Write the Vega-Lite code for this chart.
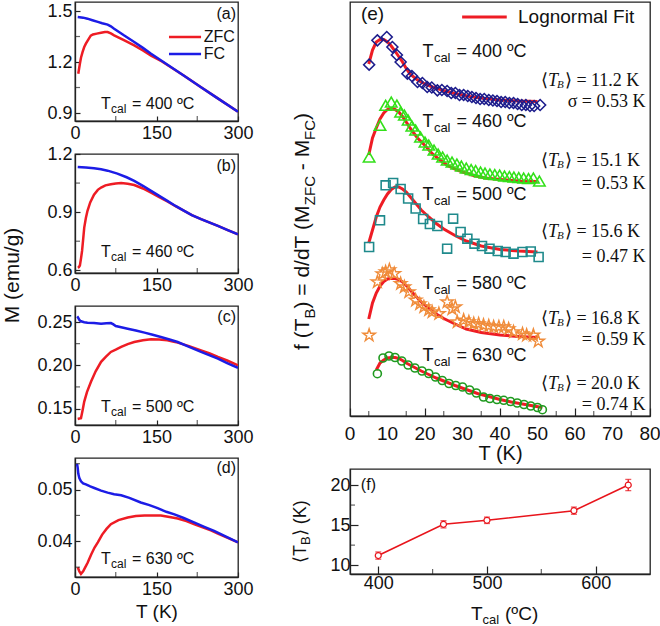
{
"$schema":"https://vega.github.io/schema/vega-lite/v6.json",
"background":"white",
"padding":{"left":0,"top":1,"right":0,"bottom":0},
"bounds":"flush",
"spacing":275,
"config":{
 "view":{"stroke":"#222","strokeWidth":1.3},
 "font":"Liberation Sans",
 "axis":{"labelFont":"Liberation Sans","labelFontSize":18,"labelColor":"#111","titleFont":"Liberation Sans","titleFontSize":19,"titleFontWeight":"normal","titleColor":"#111","tickSize":-5,"tickColor":"#222","tickWidth":1.2,"domainColor":"#222","domainWidth":1.3,"grid":false,"labelPadding":8,"labelOverlap":false,"labelFlush":false},
 "tick":{"color":"#222","thickness":1.2},
 "text":{"font":"Liberation Sans","color":"#111"}
},
"hconcat":[
{"bounds":"flush","spacing":33,"vconcat":[
 {"width":163,"height":119,
  "data":{"values":[
   {"T":6,"M":1.131,"c":"ZFC"},{"T":7.5,"M":1.16,"c":"ZFC"},{"T":9,"M":1.19,"c":"ZFC"},{"T":11,"M":1.225,"c":"ZFC"},{"T":14,"M":1.259,"c":"ZFC"},{"T":17,"M":1.288,"c":"ZFC"},{"T":20,"M":1.308,"c":"ZFC"},{"T":25,"M":1.335,"c":"ZFC"},{"T":29,"M":1.355,"c":"ZFC"},{"T":33,"M":1.362,"c":"ZFC"},{"T":40,"M":1.367,"c":"ZFC"},{"T":48,"M":1.372,"c":"ZFC"},{"T":55,"M":1.376,"c":"ZFC"},{"T":60,"M":1.376,"c":"ZFC"},{"T":66,"M":1.368,"c":"ZFC"},{"T":72,"M":1.357,"c":"ZFC"},{"T":90,"M":1.329,"c":"ZFC"},{"T":109,"M":1.298,"c":"ZFC"},{"T":125,"M":1.268,"c":"ZFC"},{"T":140,"M":1.238,"c":"ZFC"},{"T":160,"M":1.203,"c":"ZFC"},{"T":180,"M":1.162,"c":"ZFC"},{"T":200,"M":1.121,"c":"ZFC"},{"T":232,"M":1.052,"c":"ZFC"},{"T":260,"M":0.992,"c":"ZFC"},{"T":300,"M":0.907,"c":"ZFC"},
   {"T":5,"M":1.465,"c":"FC"},{"T":15,"M":1.461,"c":"FC"},{"T":23,"M":1.455,"c":"FC"},{"T":32,"M":1.446,"c":"FC"},{"T":42,"M":1.436,"c":"FC"},{"T":50,"M":1.428,"c":"FC"},{"T":60,"M":1.42,"c":"FC"},{"T":66,"M":1.41,"c":"FC"},{"T":72,"M":1.396,"c":"FC"},{"T":90,"M":1.357,"c":"FC"},{"T":109,"M":1.318,"c":"FC"},{"T":125,"M":1.283,"c":"FC"},{"T":140,"M":1.249,"c":"FC"},{"T":160,"M":1.206,"c":"FC"},{"T":180,"M":1.163,"c":"FC"},{"T":200,"M":1.121,"c":"FC"},{"T":232,"M":1.052,"c":"FC"},{"T":260,"M":0.992,"c":"FC"},{"T":300,"M":0.907,"c":"FC"}
  ]},
  "layer":[
   {"transform":[{"filter":"datum.c==='ZFC'"}],"mark":{"type":"line","color":"#ee1c24","strokeWidth":2.5,"clip":true},
    "encoding":{"x":{"field":"T","type":"quantitative","scale":{"domain":[0,300],"nice":false},"axis":{"values":[0,150,300],"format":"d","title":null}},
     "y":{"field":"M","type":"quantitative","scale":{"domain":[0.853,1.553],"nice":false,"zero":false},"axis":{"values":[0.9,1.2,1.5],"format":".1f","title":null}}}},
   {"transform":[{"filter":"datum.c==='FC'"}],"mark":{"type":"line","color":"#1c1ce6","strokeWidth":2.5,"clip":true},
    "encoding":{"x":{"field":"T","type":"quantitative"},"y":{"field":"M","type":"quantitative"}}},
   {"data":{"values":[{"v":75},{"v":225}]},"mark":{"type":"tick","orient":"vertical","size":10,"clip":true},
    "encoding":{"x":{"field":"v","type":"quantitative"},"y":{"datum":0.853,"type":"quantitative"}}},
   {"data":{"values":[{"v":1.05},{"v":1.35}]},"mark":{"type":"tick","orient":"horizontal","size":10,"clip":true},
    "encoding":{"y":{"field":"v","type":"quantitative"},"x":{"datum":0,"type":"quantitative"}}},
   {"data":{"values":[{"a":173,"b":232,"M":1.347,"c":"ZFC"},{"a":173,"b":232,"M":1.247,"c":"FC"}]},
    "mark":{"type":"rule","strokeWidth":2.5},
    "encoding":{"x":{"field":"a","type":"quantitative"},"x2":{"field":"b"},"y":{"field":"M","type":"quantitative"},"color":{"field":"c","type":"nominal","scale":{"domain":["ZFC","FC"],"range":["#ee1c24","#1c1ce6"]},"legend":null}}},
   {"data":{"values":[{"T":237,"M":1.347,"lab":"ZFC"},{"T":237,"M":1.247,"lab":"FC"}]},
    "mark":{"type":"text","align":"left","baseline":"middle","fontSize":16},
    "encoding":{"x":{"field":"T","type":"quantitative"},"y":{"field":"M","type":"quantitative"},"text":{"field":"lab"}}},
   {"data":{"values":[{"T":296.3,"M":1.482,"lab":"(a)"}]},
    "mark":{"type":"text","align":"right","baseline":"middle","fontSize":16},
    "encoding":{"x":{"field":"T","type":"quantitative"},"y":{"field":"M","type":"quantitative"},"text":{"field":"lab"}}},
   {"data":{"values":[{"T":47.9,"M":0.953,"lab":"= 400 ºC"}]},
    "layer":[
     {"mark":{"type":"text","text":"T","align":"left","baseline":"middle","fontSize":16},"encoding":{"x":{"field":"T","type":"quantitative"},"y":{"field":"M","type":"quantitative"}}},
     {"mark":{"type":"text","text":"cal","align":"left","baseline":"middle","fontSize":12,"dx":10,"dy":5},"encoding":{"x":{"field":"T","type":"quantitative"},"y":{"field":"M","type":"quantitative"}}},
     {"mark":{"type":"text","align":"left","baseline":"middle","fontSize":16,"dx":31},"encoding":{"x":{"field":"T","type":"quantitative"},"y":{"field":"M","type":"quantitative"},"text":{"field":"lab"}}}
    ]}
  ]},
 {"width":163,"height":119,
  "data":{"values":[
   {"T":5,"M":0.614,"c":"ZFC"},{"T":7,"M":0.616,"c":"ZFC"},{"T":9,"M":0.625,"c":"ZFC"},{"T":11,"M":0.66,"c":"ZFC"},{"T":13,"M":0.70,"c":"ZFC"},{"T":15,"M":0.76,"c":"ZFC"},{"T":17,"M":0.82,"c":"ZFC"},{"T":20,"M":0.87,"c":"ZFC"},{"T":23,"M":0.907,"c":"ZFC"},{"T":28,"M":0.95,"c":"ZFC"},{"T":35,"M":0.99,"c":"ZFC"},{"T":42,"M":1.015,"c":"ZFC"},{"T":48,"M":1.027,"c":"ZFC"},{"T":56,"M":1.038,"c":"ZFC"},{"T":66,"M":1.044,"c":"ZFC"},{"T":75,"M":1.048,"c":"ZFC"},{"T":85,"M":1.05,"c":"ZFC"},{"T":97,"M":1.047,"c":"ZFC"},{"T":109,"M":1.04,"c":"ZFC"},{"T":125,"M":1.022,"c":"ZFC"},{"T":140,"M":1.0,"c":"ZFC"},{"T":155,"M":0.978,"c":"ZFC"},{"T":170,"M":0.955,"c":"ZFC"},{"T":185,"M":0.931,"c":"ZFC"},{"T":201,"M":0.907,"c":"ZFC"},{"T":215,"M":0.885,"c":"ZFC"},{"T":232,"M":0.864,"c":"ZFC"},{"T":248,"M":0.846,"c":"ZFC"},{"T":263,"M":0.829,"c":"ZFC"},{"T":280,"M":0.809,"c":"ZFC"},{"T":300,"M":0.786,"c":"ZFC"},
   {"T":5,"M":1.133,"c":"FC"},{"T":20,"M":1.13,"c":"FC"},{"T":35,"M":1.126,"c":"FC"},{"T":48,"M":1.121,"c":"FC"},{"T":60,"M":1.114,"c":"FC"},{"T":78,"M":1.099,"c":"FC"},{"T":95,"M":1.08,"c":"FC"},{"T":109,"M":1.061,"c":"FC"},{"T":125,"M":1.036,"c":"FC"},{"T":140,"M":1.01,"c":"FC"},{"T":155,"M":0.984,"c":"FC"},{"T":170,"M":0.958,"c":"FC"},{"T":185,"M":0.932,"c":"FC"},{"T":201,"M":0.907,"c":"FC"},{"T":215,"M":0.885,"c":"FC"},{"T":232,"M":0.864,"c":"FC"},{"T":248,"M":0.846,"c":"FC"},{"T":263,"M":0.829,"c":"FC"},{"T":280,"M":0.809,"c":"FC"},{"T":300,"M":0.786,"c":"FC"}
  ]},
  "layer":[
   {"transform":[{"filter":"datum.c==='ZFC'"}],"mark":{"type":"line","color":"#ee1c24","strokeWidth":2.5,"clip":true},
    "encoding":{"x":{"field":"T","type":"quantitative","scale":{"domain":[0,300],"nice":false},"axis":{"values":[0,150,300],"format":"d","title":null}},
     "y":{"field":"M","type":"quantitative","scale":{"domain":[0.586,1.2],"nice":false,"zero":false},"axis":{"values":[0.6,0.9,1.2],"format":".1f","title":null}}}},
   {"transform":[{"filter":"datum.c==='FC'"}],"mark":{"type":"line","color":"#1c1ce6","strokeWidth":2.5,"clip":true},
    "encoding":{"x":{"field":"T","type":"quantitative"},"y":{"field":"M","type":"quantitative"}}},
   {"data":{"values":[{"v":75},{"v":225}]},"mark":{"type":"tick","orient":"vertical","size":10,"clip":true},
    "encoding":{"x":{"field":"v","type":"quantitative"},"y":{"datum":0.586,"type":"quantitative"}}},
   {"data":{"values":[{"v":0.75},{"v":1.05}]},"mark":{"type":"tick","orient":"horizontal","size":10,"clip":true},
    "encoding":{"y":{"field":"v","type":"quantitative"},"x":{"datum":0,"type":"quantitative"}}},
   {"data":{"values":[{"T":296.3,"M":1.138,"lab":"(b)"}]},
    "mark":{"type":"text","align":"right","baseline":"middle","fontSize":16},
    "encoding":{"x":{"field":"T","type":"quantitative"},"y":{"field":"M","type":"quantitative"},"text":{"field":"lab"}}},
   {"data":{"values":[{"T":47.9,"M":0.692,"lab":"= 460 ºC"}]},
    "layer":[
     {"mark":{"type":"text","text":"T","align":"left","baseline":"middle","fontSize":16},"encoding":{"x":{"field":"T","type":"quantitative"},"y":{"field":"M","type":"quantitative"}}},
     {"mark":{"type":"text","text":"cal","align":"left","baseline":"middle","fontSize":12,"dx":10,"dy":5},"encoding":{"x":{"field":"T","type":"quantitative"},"y":{"field":"M","type":"quantitative"}}},
     {"mark":{"type":"text","align":"left","baseline":"middle","fontSize":16,"dx":31},"encoding":{"x":{"field":"T","type":"quantitative"},"y":{"field":"M","type":"quantitative"},"text":{"field":"lab"}}}
    ]}
  ]},
 {"width":163,"height":119,
  "data":{"values":[
   {"T":5,"M":0.138,"c":"ZFC"},{"T":8,"M":0.1385,"c":"ZFC"},{"T":11,"M":0.1388,"c":"ZFC"},{"T":14,"M":0.148,"c":"ZFC"},{"T":17,"M":0.158,"c":"ZFC"},{"T":22,"M":0.169,"c":"ZFC"},{"T":29.4,"M":0.181,"c":"ZFC"},{"T":38,"M":0.193,"c":"ZFC"},{"T":48,"M":0.204,"c":"ZFC"},{"T":57,"M":0.21,"c":"ZFC"},{"T":66,"M":0.2154,"c":"ZFC"},{"T":75,"M":0.218,"c":"ZFC"},{"T":85,"M":0.2212,"c":"ZFC"},{"T":97,"M":0.2245,"c":"ZFC"},{"T":109,"M":0.2269,"c":"ZFC"},{"T":125,"M":0.229,"c":"ZFC"},{"T":140,"M":0.23,"c":"ZFC"},{"T":155,"M":0.2298,"c":"ZFC"},{"T":170,"M":0.2289,"c":"ZFC"},{"T":180,"M":0.2275,"c":"ZFC"},{"T":189,"M":0.2262,"c":"ZFC"},{"T":210,"M":0.2222,"c":"ZFC"},{"T":232,"M":0.2173,"c":"ZFC"},{"T":248,"M":0.2137,"c":"ZFC"},{"T":263,"M":0.2096,"c":"ZFC"},{"T":280,"M":0.2055,"c":"ZFC"},{"T":300,"M":0.2,"c":"ZFC"},
   {"T":4,"M":0.2565,"c":"FC"},{"T":5,"M":0.2558,"c":"FC"},{"T":8,"M":0.2525,"c":"FC"},{"T":11,"M":0.2508,"c":"FC"},{"T":17,"M":0.2498,"c":"FC"},{"T":23,"M":0.2492,"c":"FC"},{"T":35,"M":0.2488,"c":"FC"},{"T":48,"M":0.248,"c":"FC"},{"T":58,"M":0.2486,"c":"FC"},{"T":66,"M":0.2488,"c":"FC"},{"T":70,"M":0.2475,"c":"FC"},{"T":75,"M":0.2454,"c":"FC"},{"T":85,"M":0.244,"c":"FC"},{"T":97,"M":0.2423,"c":"FC"},{"T":112,"M":0.2402,"c":"FC"},{"T":128,"M":0.2377,"c":"FC"},{"T":143,"M":0.2352,"c":"FC"},{"T":158,"M":0.2327,"c":"FC"},{"T":174,"M":0.2298,"c":"FC"},{"T":189,"M":0.2269,"c":"FC"},{"T":210,"M":0.2213,"c":"FC"},{"T":232,"M":0.2154,"c":"FC"},{"T":248,"M":0.2115,"c":"FC"},{"T":263,"M":0.2077,"c":"FC"},{"T":280,"M":0.2026,"c":"FC"},{"T":300,"M":0.1969,"c":"FC"}
  ]},
  "layer":[
   {"transform":[{"filter":"datum.c==='ZFC'"}],"mark":{"type":"line","color":"#ee1c24","strokeWidth":2.5,"clip":true},
    "encoding":{"x":{"field":"T","type":"quantitative","scale":{"domain":[0,300],"nice":false},"axis":{"values":[0,150,300],"format":"d","title":null}},
     "y":{"field":"M","type":"quantitative","scale":{"domain":[0.131,0.2685],"nice":false,"zero":false},"axis":{"values":[0.15,0.2,0.25],"format":".2f","title":"M (emu/g)","titleAngle":270,"titleBaseline":"alphabetic","titleAlign":"center","titleX":-57,"titleY":-31,"titleFontSize":21}}}},
   {"transform":[{"filter":"datum.c==='FC'"}],"mark":{"type":"line","color":"#1c1ce6","strokeWidth":2.5,"clip":true},
    "encoding":{"x":{"field":"T","type":"quantitative"},"y":{"field":"M","type":"quantitative"}}},
   {"data":{"values":[{"v":75},{"v":225}]},"mark":{"type":"tick","orient":"vertical","size":10,"clip":true},
    "encoding":{"x":{"field":"v","type":"quantitative"},"y":{"datum":0.131,"type":"quantitative"}}},
   {"data":{"values":[{"v":0.175},{"v":0.225}]},"mark":{"type":"tick","orient":"horizontal","size":10,"clip":true},
    "encoding":{"y":{"field":"v","type":"quantitative"},"x":{"datum":0,"type":"quantitative"}}},
   {"data":{"values":[{"T":296.3,"M":0.2558,"lab":"(c)"}]},
    "mark":{"type":"text","align":"right","baseline":"middle","fontSize":16},
    "encoding":{"x":{"field":"T","type":"quantitative"},"y":{"field":"M","type":"quantitative"},"text":{"field":"lab"}}},
   {"data":{"values":[{"T":47.9,"M":0.1519,"lab":"= 500 ºC"}]},
    "layer":[
     {"mark":{"type":"text","text":"T","align":"left","baseline":"middle","fontSize":16},"encoding":{"x":{"field":"T","type":"quantitative"},"y":{"field":"M","type":"quantitative"}}},
     {"mark":{"type":"text","text":"cal","align":"left","baseline":"middle","fontSize":12,"dx":10,"dy":5},"encoding":{"x":{"field":"T","type":"quantitative"},"y":{"field":"M","type":"quantitative"}}},
     {"mark":{"type":"text","align":"left","baseline":"middle","fontSize":16,"dx":31},"encoding":{"x":{"field":"T","type":"quantitative"},"y":{"field":"M","type":"quantitative"},"text":{"field":"lab"}}}
    ]}
  ]},
 {"width":163,"height":119,
  "data":{"values":[
   {"T":5,"M":0.035,"c":"ZFC"},{"T":8,"M":0.0342,"c":"ZFC"},{"T":11,"M":0.0337,"c":"ZFC"},{"T":15,"M":0.0342,"c":"ZFC"},{"T":19,"M":0.035,"c":"ZFC"},{"T":23,"M":0.0358,"c":"ZFC"},{"T":30,"M":0.0375,"c":"ZFC"},{"T":36,"M":0.0388,"c":"ZFC"},{"T":42,"M":0.0398,"c":"ZFC"},{"T":50,"M":0.0413,"c":"ZFC"},{"T":58,"M":0.0424,"c":"ZFC"},{"T":66,"M":0.0433,"c":"ZFC"},{"T":80,"M":0.0441,"c":"ZFC"},{"T":97,"M":0.0446,"c":"ZFC"},{"T":112,"M":0.0449,"c":"ZFC"},{"T":128,"M":0.045,"c":"ZFC"},{"T":143,"M":0.045,"c":"ZFC"},{"T":158,"M":0.045,"c":"ZFC"},{"T":174,"M":0.0447,"c":"ZFC"},{"T":189,"M":0.0444,"c":"ZFC"},{"T":205,"M":0.0439,"c":"ZFC"},{"T":220,"M":0.0433,"c":"ZFC"},{"T":235,"M":0.0427,"c":"ZFC"},{"T":250,"M":0.0421,"c":"ZFC"},{"T":265,"M":0.0414,"c":"ZFC"},{"T":280,"M":0.0407,"c":"ZFC"},{"T":300,"M":0.0398,"c":"ZFC"},
   {"T":3.7,"M":0.055,"c":"FC"},{"T":5,"M":0.0542,"c":"FC"},{"T":6,"M":0.0531,"c":"FC"},{"T":8,"M":0.0522,"c":"FC"},{"T":11,"M":0.0516,"c":"FC"},{"T":15,"M":0.0512,"c":"FC"},{"T":20,"M":0.051,"c":"FC"},{"T":28,"M":0.0506,"c":"FC"},{"T":35.5,"M":0.0503,"c":"FC"},{"T":48,"M":0.0498,"c":"FC"},{"T":60,"M":0.0494,"c":"FC"},{"T":72,"M":0.0491,"c":"FC"},{"T":85,"M":0.0489,"c":"FC"},{"T":100,"M":0.0484,"c":"FC"},{"T":121,"M":0.0475,"c":"FC"},{"T":137,"M":0.047,"c":"FC"},{"T":152,"M":0.0464,"c":"FC"},{"T":168,"M":0.0457,"c":"FC"},{"T":183,"M":0.0452,"c":"FC"},{"T":200,"M":0.0445,"c":"FC"},{"T":220,"M":0.0436,"c":"FC"},{"T":238,"M":0.0428,"c":"FC"},{"T":256,"M":0.042,"c":"FC"},{"T":278,"M":0.0409,"c":"FC"},{"T":300,"M":0.0398,"c":"FC"}
  ]},
  "layer":[
   {"transform":[{"filter":"datum.c==='ZFC'"}],"mark":{"type":"line","color":"#ee1c24","strokeWidth":2.5,"clip":true},
    "encoding":{"x":{"field":"T","type":"quantitative","scale":{"domain":[0,300],"nice":false},"axis":{"values":[0,150,300],"format":"d","title":"T (K)","titlePadding":4}},
     "y":{"field":"M","type":"quantitative","scale":{"domain":[0.0331,0.0561],"nice":false,"zero":false},"axis":{"values":[0.04,0.05],"format":".2f","title":null}}}},
   {"transform":[{"filter":"datum.c==='FC'"}],"mark":{"type":"line","color":"#1c1ce6","strokeWidth":2.5,"clip":true},
    "encoding":{"x":{"field":"T","type":"quantitative"},"y":{"field":"M","type":"quantitative"}}},
   {"data":{"values":[{"v":75},{"v":225}]},"mark":{"type":"tick","orient":"vertical","size":10,"clip":true},
    "encoding":{"x":{"field":"v","type":"quantitative"},"y":{"datum":0.0331,"type":"quantitative"}}},
   {"data":{"values":[{"v":0.035},{"v":0.045},{"v":0.055}]},"mark":{"type":"tick","orient":"horizontal","size":10,"clip":true},
    "encoding":{"y":{"field":"v","type":"quantitative"},"x":{"datum":0,"type":"quantitative"}}},
   {"data":{"values":[{"T":296.3,"M":0.0541,"lab":"(d)"}]},
    "mark":{"type":"text","align":"right","baseline":"middle","fontSize":16},
    "encoding":{"x":{"field":"T","type":"quantitative"},"y":{"field":"M","type":"quantitative"},"text":{"field":"lab"}}},
   {"data":{"values":[{"T":47.9,"M":0.0365,"lab":"= 630 ºC"}]},
    "layer":[
     {"mark":{"type":"text","text":"T","align":"left","baseline":"middle","fontSize":16},"encoding":{"x":{"field":"T","type":"quantitative"},"y":{"field":"M","type":"quantitative"}}},
     {"mark":{"type":"text","text":"cal","align":"left","baseline":"middle","fontSize":12,"dx":10,"dy":5},"encoding":{"x":{"field":"T","type":"quantitative"},"y":{"field":"M","type":"quantitative"}}},
     {"mark":{"type":"text","align":"left","baseline":"middle","fontSize":16,"dx":31},"encoding":{"x":{"field":"T","type":"quantitative"},"y":{"field":"M","type":"quantitative"},"text":{"field":"lab"}}}
    ]}
  ]}
]},
{"bounds":"flush","spacing":53,"vconcat":[
 {"width":300,"height":414,
  "layer":[
   {"data":{"values":[
    {"s":"400","T":5,"f":352},{"s":"400","T":6,"f":366},{"s":"400","T":7,"f":374},{"s":"400","T":8,"f":376.5},{"s":"400","T":9,"f":376.5},{"s":"400","T":10,"f":374},{"s":"400","T":11,"f":370},{"s":"400","T":12,"f":365},{"s":"400","T":13,"f":359.5},{"s":"400","T":14,"f":354},{"s":"400","T":15,"f":347.5},{"s":"400","T":16,"f":342},{"s":"400","T":18,"f":336},{"s":"400","T":20,"f":332},{"s":"400","T":22,"f":329},{"s":"400","T":25,"f":325.5},{"s":"400","T":28,"f":322.5},{"s":"400","T":32,"f":319.5},{"s":"400","T":36,"f":317.5},{"s":"400","T":40,"f":316},{"s":"400","T":45,"f":315},{"s":"400","T":50,"f":314.5},
    {"s":"460","T":5,"f":261},{"s":"460","T":6,"f":278},{"s":"460","T":7,"f":288},{"s":"460","T":8,"f":297},{"s":"460","T":9,"f":303},{"s":"460","T":10,"f":306.5},{"s":"460","T":11,"f":307.5},{"s":"460","T":12,"f":306.5},{"s":"460","T":13,"f":304},{"s":"460","T":14,"f":299.5},{"s":"460","T":15,"f":294},{"s":"460","T":16,"f":288},{"s":"460","T":17,"f":283},{"s":"460","T":18,"f":278},{"s":"460","T":20,"f":270.5},{"s":"460","T":22,"f":262},{"s":"460","T":24,"f":256},{"s":"460","T":26,"f":250.5},{"s":"460","T":28,"f":247},{"s":"460","T":30,"f":244},{"s":"460","T":33,"f":240.5},{"s":"460","T":36,"f":238},{"s":"460","T":40,"f":236.5},{"s":"460","T":45,"f":235},{"s":"460","T":50,"f":234.5},
    {"s":"500","T":5,"f":173},{"s":"500","T":6,"f":186},{"s":"500","T":7,"f":199},{"s":"500","T":8,"f":209},{"s":"500","T":9,"f":216},{"s":"500","T":10,"f":222},{"s":"500","T":11,"f":226.5},{"s":"500","T":12,"f":229},{"s":"500","T":13,"f":229},{"s":"500","T":14,"f":227},{"s":"500","T":15,"f":224},{"s":"500","T":17,"f":215},{"s":"500","T":19,"f":206},{"s":"500","T":21,"f":199},{"s":"500","T":23,"f":192.5},{"s":"500","T":25,"f":187},{"s":"500","T":28,"f":180.5},{"s":"500","T":31,"f":175},{"s":"500","T":35,"f":170},{"s":"500","T":40,"f":166.5},{"s":"500","T":45,"f":165},{"s":"500","T":50,"f":164},
    {"s":"580","T":5,"f":97},{"s":"580","T":6,"f":113},{"s":"580","T":7,"f":123},{"s":"580","T":8,"f":130},{"s":"580","T":9,"f":134.5},{"s":"580","T":10,"f":137},{"s":"580","T":11,"f":137.7},{"s":"580","T":12,"f":137.5},{"s":"580","T":13,"f":136.5},{"s":"580","T":14,"f":134},{"s":"580","T":15,"f":130.5},{"s":"580","T":17,"f":122},{"s":"580","T":19,"f":114},{"s":"580","T":21,"f":108},{"s":"580","T":23,"f":102},{"s":"580","T":25,"f":97.5},{"s":"580","T":28,"f":92},{"s":"580","T":31,"f":87},{"s":"580","T":35,"f":83.5},{"s":"580","T":40,"f":81},{"s":"580","T":45,"f":79.5},{"s":"580","T":50,"f":78.5},
    {"s":"630","T":7,"f":46},{"s":"630","T":8,"f":53},{"s":"630","T":9,"f":56},{"s":"630","T":10,"f":58},{"s":"630","T":11,"f":58.5},{"s":"630","T":12,"f":58.5},{"s":"630","T":13,"f":57.5},{"s":"630","T":14,"f":55.5},{"s":"630","T":15,"f":53},{"s":"630","T":17,"f":49},{"s":"630","T":19,"f":45},{"s":"630","T":21,"f":41.5},{"s":"630","T":23,"f":38},{"s":"630","T":25,"f":35},{"s":"630","T":28,"f":30.5},{"s":"630","T":31,"f":26.5},{"s":"630","T":34,"f":22.5},{"s":"630","T":37,"f":19.5},{"s":"630","T":40,"f":16.5},{"s":"630","T":43,"f":14},{"s":"630","T":46,"f":12},{"s":"630","T":49,"f":10},{"s":"630","T":51.3,"f":8.5}
   ]},
    "mark":{"type":"line","color":"#ee1c24","strokeWidth":3},
    "encoding":{"x":{"field":"T","type":"quantitative","scale":{"domain":[0,80],"nice":false},"axis":{"values":[0,10,20,30,40,50,60,70,80],"labels":false,"title":"T (K)","titleFontSize":20,"titlePadding":27,"tickSize":-8}},
     "y":{"field":"f","type":"quantitative","scale":{"domain":[0,414],"nice":false,"zero":false},"axis":null},
     "detail":{"field":"s"}}},
   {"data":{"values":[{"v":5},{"v":15},{"v":25},{"v":35},{"v":45},{"v":55},{"v":65},{"v":75}]},"mark":{"type":"tick","orient":"vertical","size":10,"clip":true},
    "encoding":{"x":{"field":"v","type":"quantitative"},"y":{"datum":0,"type":"quantitative"}}},
   {"data":{"values":[{"v":0,"t":"0"},{"v":10,"t":"10"},{"v":20,"t":"20"},{"v":30,"t":"30"},{"v":40,"t":"40"},{"v":50,"t":"50"},{"v":60,"t":"60"},{"v":70,"t":"70"},{"v":80,"t":"80"}]},
    "mark":{"type":"text","align":"center","baseline":"middle","fontSize":19,"dy":18},
    "encoding":{"x":{"field":"v","type":"quantitative"},"y":{"datum":0,"type":"quantitative"},"text":{"field":"t"}}},
   {"data":{"values":[
    {"s":"400","T":5.1,"f":351.3},{"s":"400","T":7.3,"f":375.7},{"s":"400","T":9.8,"f":379},{"s":"400","T":11.3,"f":369},{"s":"400","T":12.5,"f":361},{"s":"400","T":13.5,"f":354},{"s":"400","T":15.3,"f":342.3},{"s":"400","T":16.5,"f":340},{"s":"400","T":18,"f":334},{"s":"400","T":19.3,"f":333},{"s":"400","T":20.6,"f":329},{"s":"400","T":21.8,"f":328.5},{"s":"400","T":23.3,"f":325.7},{"s":"400","T":24.5,"f":326},{"s":"400","T":25.9,"f":325},{"s":"400","T":27,"f":323},{"s":"400","T":28.1,"f":323},{"s":"400","T":29.2,"f":321},{"s":"400","T":30.3,"f":321},{"s":"400","T":31.4,"f":320},{"s":"400","T":32.5,"f":319},{"s":"400","T":33.6,"f":318},{"s":"400","T":34.7,"f":317},{"s":"400","T":35.8,"f":317},{"s":"400","T":37,"f":316},{"s":"400","T":38.1,"f":315.5},{"s":"400","T":39.2,"f":315},{"s":"400","T":40.3,"f":314},{"s":"400","T":41.4,"f":314},{"s":"400","T":42.5,"f":313},{"s":"400","T":43.6,"f":313},{"s":"400","T":44.7,"f":312},{"s":"400","T":45.8,"f":311},{"s":"400","T":46.9,"f":311},{"s":"400","T":48,"f":310},{"s":"400","T":49.1,"f":310},{"s":"400","T":50.7,"f":311}
   ]},
    "mark":{"type":"point","shape":"diamond","filled":false,"color":"#1c1c8c","strokeWidth":1.6,"size":120,"opacity":1},
    "encoding":{"x":{"field":"T","type":"quantitative"},"y":{"field":"f","type":"quantitative"}}},
   {"data":{"values":[
    {"T":5.1,"f":259},{"T":8,"f":290.7},{"T":9.5,"f":310.7},{"T":11,"f":314},{"T":12.5,"f":311},{"T":13.5,"f":304},{"T":14.5,"f":301},{"T":15.5,"f":296},{"T":16.5,"f":290},{"T":17.5,"f":286},{"T":18.8,"f":279},{"T":20,"f":274},{"T":21,"f":271},{"T":22.4,"f":266},{"T":23.5,"f":262},{"T":24.7,"f":259},{"T":25.9,"f":256},{"T":27.2,"f":254},{"T":28.5,"f":252},{"T":29.7,"f":250},{"T":31,"f":248},{"T":32.3,"f":246.5},{"T":33.5,"f":245.5},{"T":34.8,"f":244},{"T":36,"f":243},{"T":37.3,"f":242},{"T":38.6,"f":241.5},{"T":39.9,"f":241},{"T":41.2,"f":240},{"T":42.5,"f":239.5},{"T":43.7,"f":239},{"T":45,"f":238.5},{"T":46.3,"f":238},{"T":47.6,"f":237.5},{"T":48.9,"f":238},{"T":50.5,"f":235}
   ]},
    "mark":{"type":"point","shape":"triangle-up","filled":false,"color":"#33e01a","strokeWidth":1.6,"size":130,"opacity":1},
    "encoding":{"x":{"field":"T","type":"quantitative"},"y":{"field":"f","type":"quantitative"}}},
   {"data":{"values":[
    {"T":5.1,"f":169},{"T":8,"f":195.7},{"T":9.5,"f":230.7},{"T":11.5,"f":233},{"T":13.5,"f":227},{"T":15.5,"f":217.5},{"T":17.5,"f":207.5},{"T":19.5,"f":197},{"T":21.3,"f":192},{"T":23.3,"f":190},{"T":25.9,"f":167.3},{"T":27.5,"f":197.3},{"T":29.5,"f":184},{"T":31.3,"f":177.3},{"T":33.2,"f":172.3},{"T":35.2,"f":170},{"T":37.2,"f":167.3},{"T":39.4,"f":165},{"T":41.5,"f":164},{"T":43.6,"f":162.3},{"T":46,"f":164},{"T":48.2,"f":164.5},{"T":50.3,"f":159}
   ]},
    "mark":{"type":"point","shape":"square","filled":false,"color":"#1f8a8c","strokeWidth":1.6,"size":80,"opacity":1},
    "encoding":{"x":{"field":"T","type":"quantitative"},"y":{"field":"f","type":"quantitative"}}},
   {"data":{"values":[
    {"T":5.1,"f":80.7},{"T":7.3,"f":134},{"T":8.6,"f":142},{"T":9.5,"f":144},{"T":10.5,"f":146},{"T":11.8,"f":142.3},{"T":13.5,"f":132.3},{"T":14.5,"f":129},{"T":15.7,"f":124},{"T":17.5,"f":115.7},{"T":18.6,"f":112},{"T":19.7,"f":109},{"T":21,"f":106},{"T":21.9,"f":104},{"T":23.7,"f":102.3},{"T":25.9,"f":114},{"T":27.2,"f":107},{"T":28.1,"f":109},{"T":28.6,"f":94},{"T":30.3,"f":95.7},{"T":31.7,"f":94},{"T":33,"f":92.3},{"T":34.3,"f":92},{"T":35.6,"f":90.7},{"T":37,"f":90},{"T":38.3,"f":89},{"T":39.7,"f":89},{"T":41,"f":89},{"T":42.3,"f":87},{"T":43.6,"f":84},{"T":46,"f":82},{"T":47.1,"f":80.7},{"T":48.9,"f":80.7},{"T":50.2,"f":74.7}
   ]},
    "mark":{"type":"point","shape":"M0,-1L0.2245,-0.309L0.951,-0.309L0.363,0.118L0.588,0.809L0,0.382L-0.588,0.809L-0.363,0.118L-0.951,-0.309L-0.2245,-0.309Z","filled":false,"color":"#f08c3a","strokeWidth":1.4,"size":170,"opacity":1},
    "encoding":{"x":{"field":"T","type":"quantitative"},"y":{"field":"f","type":"quantitative"}}},
   {"data":{"values":[
    {"T":7.3,"f":42.3},{"T":8.8,"f":58},{"T":10.4,"f":60},{"T":12,"f":58.5},{"T":13.8,"f":55},{"T":15.5,"f":51},{"T":17.3,"f":48},{"T":19.2,"f":45},{"T":21,"f":42.5},{"T":22.8,"f":39},{"T":24.6,"f":35.5},{"T":26.4,"f":32.5},{"T":28.2,"f":30.5},{"T":30,"f":29},{"T":31.9,"f":26},{"T":33.7,"f":23},{"T":35.6,"f":19},{"T":37.3,"f":17.5},{"T":39.2,"f":16.5},{"T":41,"f":15.7},{"T":42.8,"f":14.5},{"T":44.6,"f":13},{"T":46.4,"f":11.5},{"T":48.2,"f":10},{"T":50,"f":8.5},{"T":51.3,"f":6.3}
   ]},
    "mark":{"type":"point","shape":"circle","filled":false,"color":"#1f9a1f","strokeWidth":1.6,"size":64,"opacity":1},
    "encoding":{"x":{"field":"T","type":"quantitative"},"y":{"field":"f","type":"quantitative"}}},
   {"data":{"values":[{"a":29.9,"b":41.8,"f":399}]},
    "mark":{"type":"rule","color":"#ee1c24","strokeWidth":3},
    "encoding":{"x":{"field":"a","type":"quantitative"},"x2":{"field":"b"},"y":{"field":"f","type":"quantitative"}}},
   {"data":{"values":[{"T":44.8,"f":399,"lab":"Lognormal Fit"},{"T":2.9,"f":402,"lab":"(e)"}]},
    "mark":{"type":"text","align":"left","baseline":"middle","fontSize":19},
    "encoding":{"x":{"field":"T","type":"quantitative"},"y":{"field":"f","type":"quantitative"},"text":{"field":"lab"}}},
   {"data":{"values":[{"T":19.3,"f":364,"lab":"= 400 ºC"},{"T":19.3,"f":294,"lab":"= 460 ºC"},{"T":19.3,"f":221,"lab":"= 500 ºC"},{"T":19.3,"f":132,"lab":"= 580 ºC"},{"T":19.3,"f":60,"lab":"= 630 ºC"}]},
    "layer":[
     {"mark":{"type":"text","text":"T","align":"left","baseline":"middle","fontSize":18},"encoding":{"x":{"field":"T","type":"quantitative"},"y":{"field":"f","type":"quantitative"}}},
     {"mark":{"type":"text","text":"cal","align":"left","baseline":"middle","fontSize":13,"dx":11.5,"dy":6},"encoding":{"x":{"field":"T","type":"quantitative"},"y":{"field":"f","type":"quantitative"}}},
     {"mark":{"type":"text","align":"left","baseline":"middle","fontSize":18,"dx":34},"encoding":{"x":{"field":"T","type":"quantitative"},"y":{"field":"f","type":"quantitative"},"text":{"field":"lab"}}}
    ]},
   {"data":{"values":[{"f":335,"f2":314,"v":"⟩ = 11.2 K","sg":"σ = 0.53 K"},{"f":255,"f2":232,"v":"⟩ = 15.1 K","sg":"= 0.53 K"},{"f":184,"f2":159,"v":"⟩ = 15.6 K","sg":"= 0.47 K"},{"f":97.3,"f2":76,"v":"⟩ = 16.8 K","sg":"= 0.59 K"},{"f":32.3,"f2":11,"v":"⟩ = 20.0 K","sg":"= 0.74 K"}]},
    "layer":[
     {"mark":{"type":"text","text":"⟨","font":"DejaVu Serif","align":"left","baseline":"middle","fontSize":18},"encoding":{"x":{"datum":50.9,"type":"quantitative"},"y":{"field":"f","type":"quantitative"}}},
     {"mark":{"type":"text","text":"T","font":"Liberation Serif","fontStyle":"italic","align":"left","baseline":"middle","fontSize":18,"dx":7},"encoding":{"x":{"datum":50.9,"type":"quantitative"},"y":{"field":"f","type":"quantitative"}}},
     {"mark":{"type":"text","text":"B","font":"Liberation Serif","fontStyle":"italic","align":"left","baseline":"middle","fontSize":11,"dx":16,"dy":4},"encoding":{"x":{"datum":50.9,"type":"quantitative"},"y":{"field":"f","type":"quantitative"}}},
     {"mark":{"type":"text","font":"Liberation Serif","align":"left","baseline":"middle","fontSize":18,"dx":24},"encoding":{"x":{"datum":50.9,"type":"quantitative"},"y":{"field":"f","type":"quantitative"},"text":{"field":"v"}}},
     {"mark":{"type":"text","font":"Liberation Serif","align":"right","baseline":"middle","fontSize":18},"encoding":{"x":{"datum":78.8,"type":"quantitative"},"y":{"field":"f2","type":"quantitative"},"text":{"field":"sg"}}}
    ]},
   {"data":{"values":[{"x":-10.9,"f":66,"t":"f (T","z":21},{"x":-9.3,"f":97.5,"t":"B","z":15},{"x":-10.9,"f":107.5,"t":") = d/dT (M","z":21},{"x":-9.3,"f":210.8,"t":"ZFC","z":15},{"x":-10.9,"f":245.8,"t":"- M","z":21},{"x":-9.3,"f":276.1,"t":"FC","z":15},{"x":-10.9,"f":296.1,"t":")","z":21}]},
    "mark":{"type":"text","angle":270,"align":"left","baseline":"alphabetic"},
    "encoding":{"x":{"field":"x","type":"quantitative"},"y":{"field":"f","type":"quantitative"},"text":{"field":"t"},"size":{"field":"z","type":"quantitative","scale":null}}}
  ]},
 {"width":300,"height":105,
  "layer":[
   {"data":{"values":[{"Tcal":400,"TB":11.2,"err":0.45},{"Tcal":460,"TB":15.1,"err":0.45},{"Tcal":500,"TB":15.6,"err":0.4},{"Tcal":580,"TB":16.8,"err":0.45},{"Tcal":630,"TB":20.0,"err":0.7}]},
    "layer":[
     {"mark":{"type":"line","color":"#e8141b","strokeWidth":1.6},
      "encoding":{"x":{"field":"Tcal","type":"quantitative","scale":{"domain":[374,650],"nice":false,"zero":false},"axis":{"values":[400,500,600],"format":"d","title":null,"tickSize":-8}},
       "y":{"field":"TB","type":"quantitative","scale":{"domain":[8.9,22],"nice":false,"zero":false},"axis":{"values":[10,15,20],"format":"d","title":null,"tickSize":-8}}}},
     {"mark":{"type":"errorbar","color":"#e8141b","thickness":1.3,"ticks":{"size":6}},
      "encoding":{"x":{"field":"Tcal","type":"quantitative"},"y":{"field":"TB","type":"quantitative"},"yError":{"field":"err"}}},
     {"mark":{"type":"point","shape":"circle","filled":true,"fill":"white","stroke":"#e8141b","strokeWidth":1.2,"size":36,"opacity":1},
      "encoding":{"x":{"field":"Tcal","type":"quantitative"},"y":{"field":"TB","type":"quantitative"}}}
    ]},
   {"data":{"values":[{"v":450},{"v":550}]},"mark":{"type":"tick","orient":"vertical","size":10,"clip":true},
    "encoding":{"x":{"field":"v","type":"quantitative"},"y":{"datum":8.9,"type":"quantitative"}}},
   {"data":{"values":[{"v":12.5},{"v":17.5}]},"mark":{"type":"tick","orient":"horizontal","size":10,"clip":true},
    "encoding":{"y":{"field":"v","type":"quantitative"},"x":{"datum":374,"type":"quantitative"}}},
   {"data":{"values":[{"x":384,"y":20.04,"t":"(f)"}]},
    "mark":{"type":"text","align":"left","baseline":"middle","fontSize":16},
    "encoding":{"x":{"field":"x","type":"quantitative"},"y":{"field":"y","type":"quantitative"},"text":{"field":"t"}}},
   {"data":{"values":[{"x":333.5,"y":10.27,"t":"⟨T","z":18},{"x":337.2,"y":12.52,"t":"B","z":13},{"x":333.5,"y":13.61,"t":"⟩ (K)","z":18}]},
    "mark":{"type":"text","angle":270,"align":"left","baseline":"alphabetic"},
    "encoding":{"x":{"field":"x","type":"quantitative"},"y":{"field":"y","type":"quantitative"},"text":{"field":"t"},"size":{"field":"z","type":"quantitative","scale":null}}},
   {"data":{"values":[{"x":485.3,"y":3.91,"lab":"(ºC)"}]},
    "layer":[
     {"mark":{"type":"text","text":"T","align":"left","baseline":"middle","fontSize":19},"encoding":{"x":{"field":"x","type":"quantitative"},"y":{"field":"y","type":"quantitative"}}},
     {"mark":{"type":"text","text":"cal","align":"left","baseline":"middle","fontSize":13,"dx":11.5,"dy":6},"encoding":{"x":{"field":"x","type":"quantitative"},"y":{"field":"y","type":"quantitative"}}},
     {"mark":{"type":"text","align":"left","baseline":"middle","fontSize":19,"dx":34},"encoding":{"x":{"field":"x","type":"quantitative"},"y":{"field":"y","type":"quantitative"},"text":{"field":"lab"}}}
    ]}
  ]}
]}
]
}
